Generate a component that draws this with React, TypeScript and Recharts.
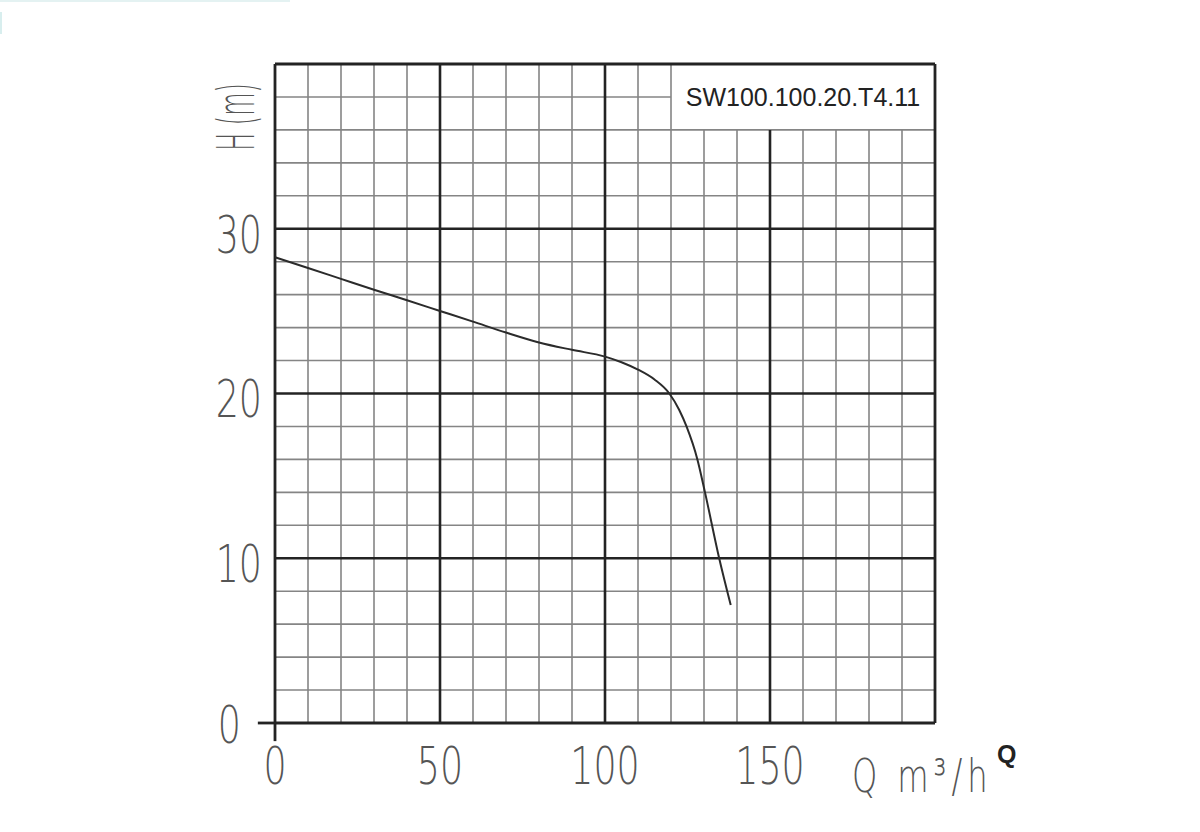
import React from 'react';
import { LineChart, Line, XAxis, YAxis, ReferenceLine, ReferenceArea } from 'recharts';

// Pump curve: flow Q (m³/h) vs head H (m)
const flowQ = [0, 10, 20, 30, 40, 50, 60, 70, 80, 90, 100, 105, 110, 115, 119.5, 122.5, 124.7, 128, 130.3, 134.6, 138.1];
const headH = [28.27, 27.62, 26.96, 26.3, 25.66, 25.01, 24.36, 23.7, 23.1, 22.65, 22.24, 21.9, 21.45, 20.85, 20.0, 19.0, 18.0, 16.0, 14.0, 10.0, 7.16];

const xTicks = [0, 50, 100, 150];
const yTicks = [0, 10, 20, 30];
const xMajorInner = [50, 100, 150];
const yMajorInner = [10, 20, 30];
const xBorder = [0, 200];
const yBorder = [0, 40];
const xMinor = [10, 20, 30, 40, 60, 70, 80, 90, 110, 120, 130, 140, 160, 170, 180, 190];
const yMinor = [2, 4, 6, 8, 12, 14, 16, 18, 22, 24, 26, 28, 32, 34, 36, 38];
const modelName = 'SW100.100.20.T4.11';
const boxQ = [120, 200];
const boxH = [36, 40];

const data = flowQ.map((q, i) => ({ q, h: headH[i] }));

const MAJOR = '#232323';
const MINOR = '#858585';
const TEXT = '#555';
const ISO_FONT = '"DejaVu Sans", sans-serif';

// grid lines stop at the label box (top-right corner)
const vTop = (q: number) => (q > boxQ[0] ? boxH[0] : 40);
const hRight = (h: number) => (h > boxH[0] ? boxQ[0] : 200);

const XTick = (props: any) => {
  const { x, y, payload } = props;
  return (
    <text
      transform={`translate(${x},${y + 43}) scale(0.7,1)`}
      textAnchor="middle"
      dominantBaseline="central"
      fontFamily={ISO_FONT}
      fontWeight={200}
      fontSize={52}
      fill={TEXT}
    >
      {payload.value}
    </text>
  );
};

const YTick = (props: any) => {
  const { x, y, payload } = props;
  const dx = payload.value === 0 ? -34 : -13;
  const dy = payload.value === 0 ? 2 : 6;
  return (
    <text
      transform={`translate(${x + dx},${y + dy}) scale(0.7,1)`}
      textAnchor="end"
      dominantBaseline="central"
      fontFamily={ISO_FONT}
      fontWeight={200}
      fontSize={52}
      fill={TEXT}
    >
      {payload.value}
    </text>
  );
};

const XLabel = (props: any) => {
  const vb = props.viewBox;
  const right = vb.x + vb.width;
  const top = vb.y;
  return (
    <g>
      <text
        transform={`translate(${right - 83},${top + 69}) scale(0.7,1)`}
        textAnchor="start"
        fontFamily={ISO_FONT}
        fontWeight={200}
        fontSize={46}
        letterSpacing={7}
        fill={TEXT}
      >
        Q m³/h
      </text>
      <text
        x={right + 62}
        y={top + 40}
        fontFamily='"Liberation Sans", Arial, sans-serif'
        fontWeight={700}
        fontSize={25}
        fill="#222"
      >
        Q
      </text>
    </g>
  );
};

const YLabel = (props: any) => {
  const vb = props.viewBox;
  return (
    <text
      transform={`translate(${vb.x + 21},${vb.y + 53}) rotate(-90) scale(0.46,1)`}
      textAnchor="middle"
      dominantBaseline="central"
      fontFamily={ISO_FONT}
      fontWeight={200}
      fontSize={52}
      fill={TEXT}
    >
      H (m)
    </text>
  );
};

export default function App() {
  return (
    <div style={{ position: 'absolute', left: 0, top: 0, width: 1200, height: 832, background: '#fff' }}>
      <div style={{ position: 'absolute', left: 0, top: 0, width: 290, height: 2, background: '#e4f2f2' }} />
      <div style={{ position: 'absolute', left: 0, top: 12, width: 2, height: 22, background: '#d8eeee' }} />
      <LineChart
        width={1200}
        height={832}
        data={data}
        margin={{ top: 64, right: 265, bottom: 69, left: 215 }}
      >
        <XAxis
          dataKey="q"
          type="number"
          domain={[0, 200]}
          ticks={xTicks}
          axisLine={false}
          tickLine={false}
          tickSize={0}
          tickMargin={0}
          height={40}
          tick={<XTick />}
          interval={0}
          label={{ content: <XLabel /> } as any}
        />
        <YAxis
          type="number"
          domain={[0, 40]}
          ticks={yTicks}
          axisLine={false}
          tickLine={false}
          tickSize={0}
          tickMargin={0}
          width={60}
          tick={<YTick />}
          interval={0}
          label={{ content: <YLabel /> } as any}
        />
        {xMinor.map((v) => (
          <ReferenceLine
            key={`xm${v}`}
            segment={[{ x: v, y: 0 }, { x: v, y: vTop(v) }]}
            stroke={MINOR}
            strokeWidth={1.6}
          />
        ))}
        {yMinor.map((v) => (
          <ReferenceLine
            key={`ym${v}`}
            segment={[{ x: 0, y: v }, { x: hRight(v), y: v }]}
            stroke={MINOR}
            strokeWidth={1.6}
          />
        ))}
        {xMajorInner.map((v) => (
          <ReferenceLine
            key={`xM${v}`}
            segment={[{ x: v, y: 0 }, { x: v, y: vTop(v) }]}
            stroke={MAJOR}
            strokeWidth={2.6}
          />
        ))}
        {yMajorInner.map((v) => (
          <ReferenceLine key={`yM${v}`} y={v} stroke={MAJOR} strokeWidth={2.6} />
        ))}
        <ReferenceArea
          x1={boxQ[0]}
          x2={boxQ[1]}
          y1={boxH[0]}
          y2={boxH[1]}
          fill="#ffffff"
          fillOpacity={0}
          stroke="none"
          label={{
            value: modelName,
            position: 'center',
            fontFamily: '"Liberation Sans", Arial, sans-serif',
            fontSize: 25,
            fill: '#222',
          } as any}
        />
        {xBorder.map((v) => (
          <ReferenceLine key={`xB${v}`} x={v} stroke={MAJOR} strokeWidth={2.8} />
        ))}
        {yBorder.map((v) => (
          <ReferenceLine key={`yB${v}`} y={v} stroke={MAJOR} strokeWidth={2.8} />
        ))}
        <ReferenceLine
          segment={[{ x: -5.2, y: 0 }, { x: 0, y: 0 }]}
          ifOverflow="visible"
          stroke={MAJOR}
          strokeWidth={2.8}
        />
        <ReferenceLine
          segment={[{ x: 0, y: 0 }, { x: 0, y: -1.1 }]}
          ifOverflow="visible"
          stroke={MAJOR}
          strokeWidth={2.8}
        />
        <Line
          type="monotone"
          dataKey="h"
          stroke="#2b2b2b"
          strokeWidth={2}
          dot={false}
          activeDot={false}
          isAnimationActive={false}
        />
      </LineChart>
    </div>
  );
}
